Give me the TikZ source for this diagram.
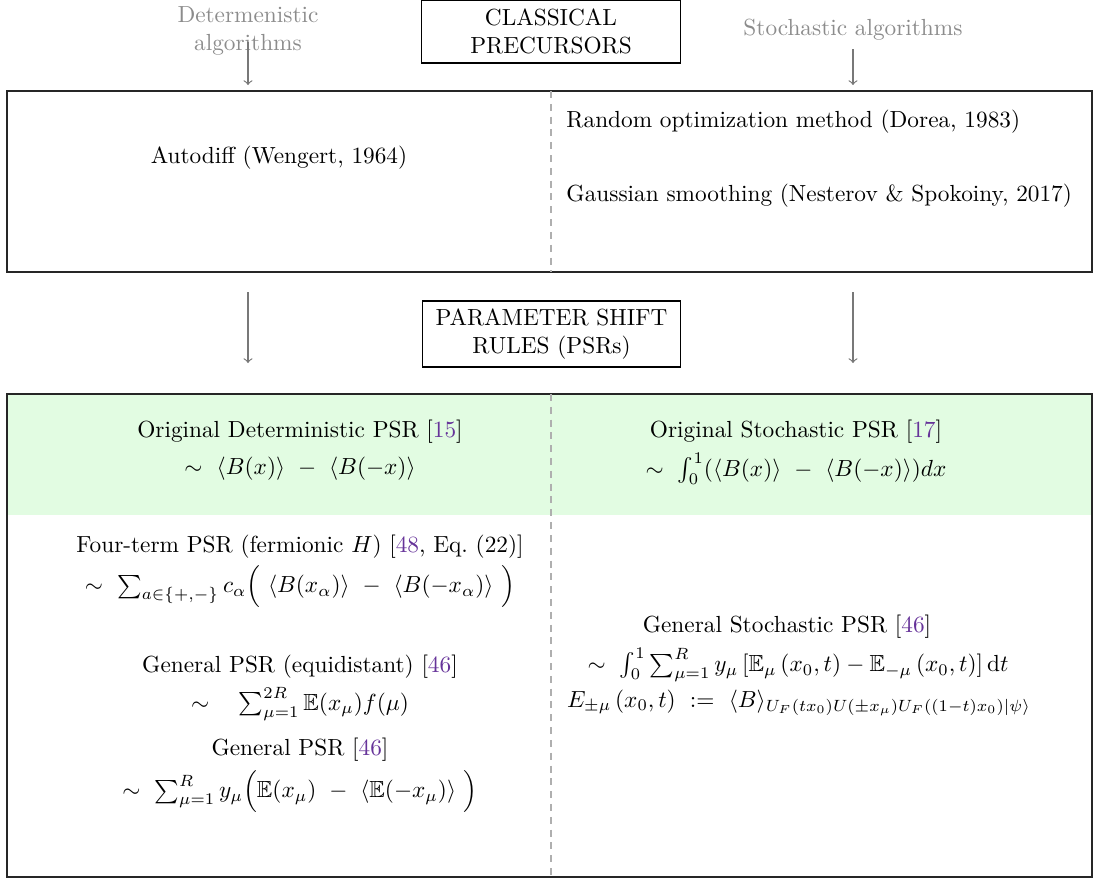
\documentclass[tikz,border=0pt]{standalone}
\usepackage{amsmath,amssymb}
\definecolor{citec}{RGB}{102,51,153}
\definecolor{gtxt}{RGB}{140,140,140}
\definecolor{garr}{RGB}{120,120,120}
\definecolor{dashc}{RGB}{175,175,175}
\definecolor{lgreen}{RGB}{226,252,226}
\newcommand{\cit}[1]{{\color{citec}#1}}
\begin{document}
\begin{tikzpicture}[x=0.4293pt,y=-0.4293pt,
  gtext/.style={text=gtxt, align=center, inner sep=0pt},
  arr/.style={->, draw=garr, line width=0.5pt},
  title/.style={draw, line width=0.6pt, align=center, minimum width=111pt, minimum height=27pt, inner sep=2pt},
  frame/.style={draw=black!85, line width=0.7pt},
  sep/.style={draw=dashc, dashed, line width=0.6pt, dash pattern=on 3pt off 2.5pt},
  txt/.style={inner sep=0pt, align=center}]
\useasboundingbox (0,0) rectangle (1094,879);
% top labels
\node[gtext] (det) at (248,31) {Determenistic\\algorithms};
\node[gtext] (sto) at (853,30) {Stochastic algorithms};
\node[title] (classical) at (551,31.5) {CLASSICAL\\PRECURSORS};
\coordinate (d1) at (248,42); \coordinate (d2) at (248,85);
\coordinate (s1) at (853,49); \coordinate (s2) at (853,85);
\draw[arr] (d1) -- (d2);
\draw[arr] (s1) -- (s2);
% top box
\draw[frame] (7,91) rectangle (1092,272);
\coordinate (t1) at (551,91); \coordinate (t2) at (551,272);
\draw[sep] (t1) -- (t2);
\node[txt] (autodiff) at (279,158) {Autodiff (Wengert, 1964)};
\node[txt, anchor=west] (random) at (566,122) {Random optimization method (Dorea, 1983)};
\node[txt, anchor=west] (gauss) at (566,196) {Gaussian smoothing (Nesterov \& Spokoiny, 2017)};
% middle
\coordinate (m1) at (248,292); \coordinate (m2) at (248,363);
\coordinate (m3) at (853,292); \coordinate (m4) at (853,363);
\draw[arr] (m1) -- (m2);
\draw[arr] (m3) -- (m4);
\node[title, minimum height=28.3pt] (psr) at (551.5,334) {PARAMETER SHIFT\\RULES (PSRs)};
% bottom box
\fill[lgreen] (7,394) rectangle (1092,515);
\draw[frame] (7,394) rectangle (1092,877);
\coordinate (b1) at (551,394); \coordinate (b2) at (551,877);
\draw[sep] (b1) -- (b2);
% left column
\node[txt] (odet) at (300,432) {Original Deterministic PSR [\cit{15}]};
\node[txt] (odetf) at (300,469) {$\sim\ \langle B(x)\rangle\ -\ \langle B(-x)\rangle$};
\node[txt] (four) at (300,547) {Four-term PSR (fermionic $H$) [\cit{48}, Eq.~(22)]};
\node[txt] (fourf) at (300,587) {$\sim\ \sum_{a\in\{+,-\}} c_\alpha\Big(\ \langle B(x_\alpha)\rangle\ -\ \langle B(-x_\alpha)\rangle\ \Big)$};
\node[txt] (equi) at (300,667) {General PSR (equidistant) [\cit{46}]};
\node[txt] (equif) at (300,704) {$\sim\quad \sum_{\mu=1}^{2R}\mathbb{E}(x_\mu)f(\mu)$};
\node[txt] (gen) at (300,750) {General PSR [\cit{46}]};
\node[txt] (genf) at (300,792) {$\sim\ \sum_{\mu=1}^{R} y_\mu\Big(\mathbb{E}(x_\mu)\ -\ \langle\mathbb{E}(-x_\mu)\rangle\ \Big)$};
% right column
\node[txt] (osto) at (796,432) {Original Stochastic PSR [\cit{17}]};
\node[txt] (ostof) at (796,469) {$\sim\ \int_0^1(\langle B(x)\rangle\ -\ \langle B(-x)\rangle)dx$};
\node[txt] (gsto) at (787,627) {General Stochastic PSR [\cit{46}]};
\node[txt] (gstof) at (798,665) {$\sim\ \int_0^1\sum_{\mu=1}^{R} y_\mu\left[\mathbb{E}_\mu\left(x_0,t\right)-\mathbb{E}_{-\mu}\left(x_0,t\right)\right]\mathrm{d}t$};
\node[txt] (estar) at (799,703) {$E_{\pm\mu}\left(x_0,t\right)\ :=\ \langle B\rangle_{U_F(tx_0)U(\pm x_\mu)U_F((1-t)x_0)|\psi\rangle}$};
\end{tikzpicture}
\end{document}
